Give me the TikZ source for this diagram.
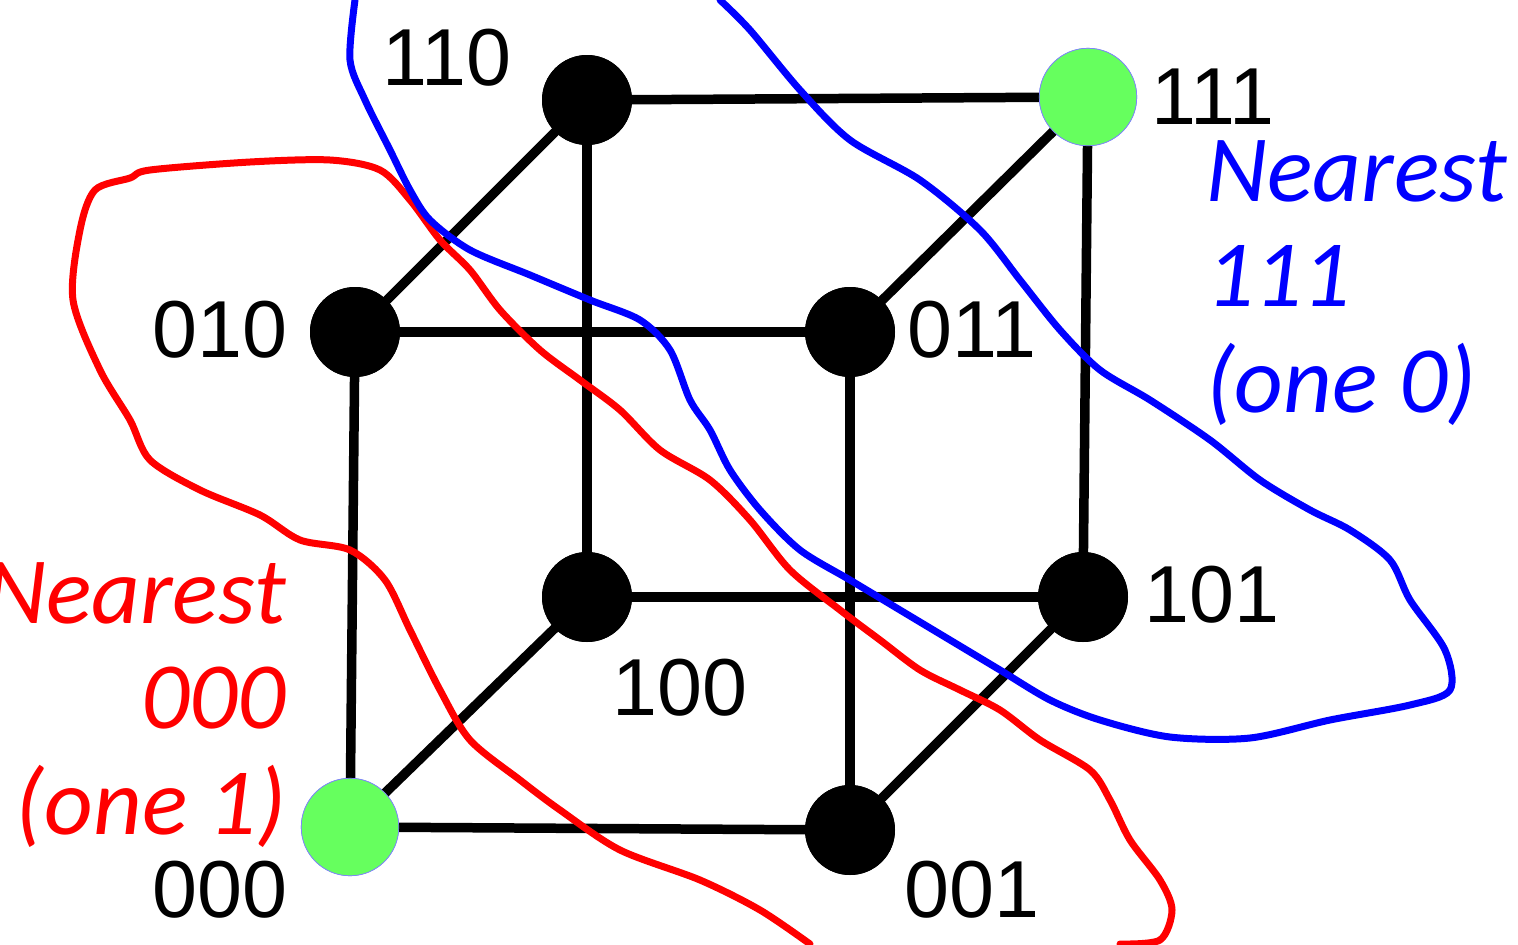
\documentclass[tikz,border=0pt]{standalone}
\usepackage{fontspec}
\setmainfont{Liberation Sans}
\newfontfamily\calib{Carlito}
\definecolor{lgreen}{HTML}{66FF5E}
\begin{document}
\begin{tikzpicture}[x=0.02cm,y=-0.02cm,
  vtx/.style={circle,fill=black,minimum size=1.8cm,inner sep=0pt},
  gvtx/.style={circle,fill=lgreen,draw=blue!50,minimum size=1.95cm,inner sep=0pt},
  lab/.style={font=\fontsize{46}{50}\selectfont},
  edge/.style={line width=0.19cm},
  hand/.style={line width=0.14cm,line join=round,line cap=round},
  note/.style={font=\calib\itshape\fontsize{54}{60}\selectfont}]
\useasboundingbox (0,0) rectangle (1518,944);
\clip (0,0) rectangle (1518,944);
\node[vtx] (v110) at (587,100) {};
\node[gvtx] (v111) at (1088,97) {};
\node[vtx] (v010) at (355,332) {};
\node[vtx] (v011) at (850,332) {};
\node[vtx] (v100) at (587,597) {};
\node[vtx] (v101) at (1083,597) {};
\node[gvtx] (v000) at (350,827) {};
\node[vtx] (v001) at (850,830) {};
\foreach \a/\b in {v110/v111,v010/v011,v100/v101,v000/v001,v110/v010,v111/v011,v100/v000,v101/v001,v110/v100,v111/v101,v010/v000,v011/v001}
  \draw[edge] (\a.center) -- (\b.center);
\node[gvtx] at (1088,97) {};
\node[gvtx] at (350,827) {};
\foreach \n in {v110,v010,v011,v100,v101,v001} \node[vtx] at (\n) {};
\node[lab] (l110) at (447,58) {110};
\node[lab] (l111) at (1213,97) {111};
\node[lab] (l010) at (220,330) {010};
\node[lab] (l011) at (972,330) {011};
\node[lab] (l101) at (1212,595) {101};
\node[lab] (l100) at (680,688) {100};
\node[lab] (l000) at (220,890) {000};
\node[lab] (l001) at (972,890) {001};
\draw[red,hand] plot[smooth,tension=0.5] coordinates {(1120,944) (1160,940) (1172,910) (1160,880) (1130,840) (1110,800) (1090,770) (1040,740) (1000,710) (960,690) (920,670) (880,640) (840,610) (790,570) (750,520) (710,480) (660,450) (620,410) (580,380) (540,350) (500,310) (470,270) (440,240) (410,200) (380,170) (330,160) (250,162) (150,170) (130,178) (95,190) (80,230) (73,300) (100,370) (130,420) (150,460) (200,490) (260,515) (300,540) (350,550) (385,580) (410,630) (440,690) (470,740) (520,780) (560,810) (620,850) (700,880) (760,910) (810,944)};
\draw[blue,hand] plot[smooth,tension=0.5] coordinates {(355,0) (350,60) (365,100) (390,150) (410,190) (430,220) (470,250) (530,275) (590,300) (640,320) (670,350) (690,400) (710,430) (730,470) (760,510) (800,550) (850,580) (900,610) (950,640) (1000,670) (1050,700) (1100,720) (1170,737) (1250,738) (1330,720) (1410,705) (1450,690) (1445,650) (1410,600) (1390,560) (1350,530) (1310,510) (1260,480) (1210,440) (1150,400) (1100,370) (1060,330) (1020,280) (980,230) (920,180) (850,140) (800,90) (750,30) (720,0)};
\node[note,blue,anchor=west,align=left] (nb) at (1200,283) {Nearest\\111\\(one 0)};
\node[note,red,anchor=east,align=right] (nr) at (292,705) {Nearest\\000\\(one 1)};
\end{tikzpicture}
\end{document}
